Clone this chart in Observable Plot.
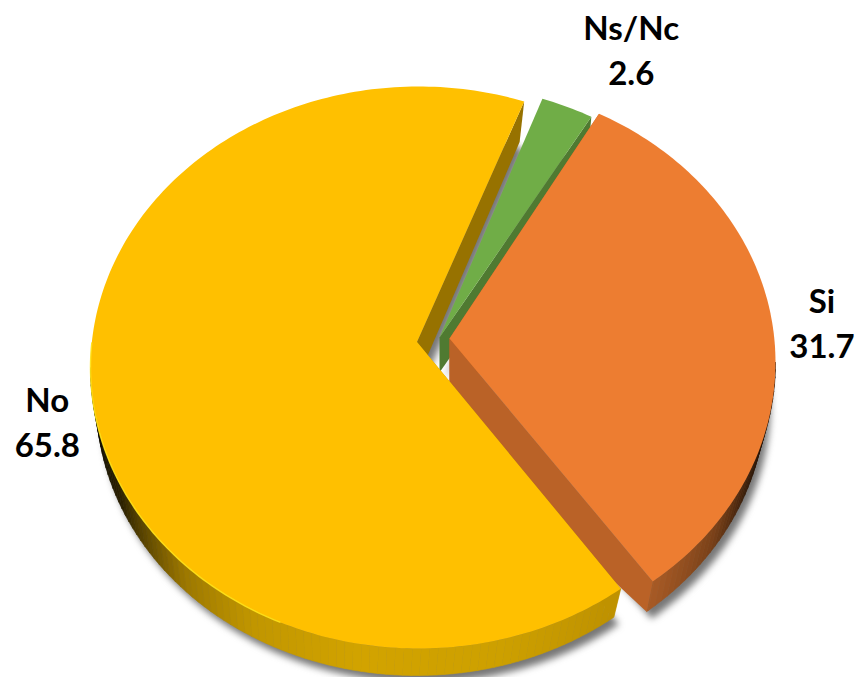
<!DOCTYPE html>
<html>
<head>
<meta charset="utf-8">
<style>
html,body{margin:0;padding:0;background:#fff}
.soft{filter:blur(3.5px)}
</style>
<script src="https://cdn.jsdelivr.net/npm/d3@7"></script>
<script src="https://cdn.jsdelivr.net/npm/@observablehq/plot@0.6"></script>
</head>
<body>
<script>
// Data
const categories = ["Si", "No", "Ns/Nc"];
const values = [31.7, 65.8, 2.6];

// Colours
const topColors = ["#ED7D31", "#FFC000", "#70AD47"];
const wallColors = ["#BA6227", "#977200", "#4F7A31"];

// Perspective layout of each exploded slice
const layout = [
  {turn: 27.3, ax: 449, ay: 338, bax: 449, bay: 428, cx: 449, cy: 362, rx: 326, ry: 280, bcx: 449, bcy: 397, brx: 316, bry: 274,
   rimStops: [[90,"#000000"],[112,"#3a1f0b"],[125,"#7a4119"],[142,"#aa5c26"]], dx: 0, dy: -10},
  {turn: 27.8, ax: 416.5, ay: 341.5, bax: 416, bay: 381, cx: 418, cy: 367, rx: 328, ry: 281, bcx: 416, bcy: 401, brx: 320, bry: 274,
   rimStops: [[142,"#bd9000"],[165,"#cda000"],[190,"#d2a300"],[211,"#c09500"],[226,"#9c7700"],[247,"#2a2000"],[270,"#000000"]], dx: 0, dy: -1},
  {turn: 27.4, ax: 439, ay: 337, bax: 439, bay: 372, cx: 439, cy: 364, rx: 326, ry: 280, bcx: 439, bcy: 395, brx: 318, bry: 266,
   rimStops: [], dx: 45, dy: -21}
];
const labelReach = 1.148;

const rad = d => d * Math.PI / 180;
const onRim = (t, cx, cy, rx, ry) => ({x: cx + rx * Math.sin(rad(t)), y: cy - ry * Math.cos(rad(t))});

let cumulative = 0;
const slices = categories.map((name, i) => {
  const L = layout[i];
  const t0 = cumulative * 3.6 + L.turn;
  const t1 = t0 + values[i] * 3.6;
  cumulative += values[i];
  return {name, value: values[i], t0, t1, mid: (t0 + t1) / 2, top: topColors[i], wall: wallColors[i], L};
});

const arcAngles = (a, b) => {
  const n = Math.max(2, Math.ceil((b - a) / 1));
  return d3.range(n + 1).map(k => a + (b - a) * k / n);
};
const topPoly = s => [{x: s.L.ax, y: s.L.ay},
  ...arcAngles(s.t0, s.t1).map(t => onRim(t, s.L.cx, s.L.cy, s.L.rx, s.L.ry))];
const basePoly = s => [{x: s.L.bax, y: Math.min(s.L.bay, 385)},
  ...arcAngles(s.t0, s.t1).map(t => onRim(t, s.L.bcx, s.L.bcy, s.L.brx, s.L.bry))];

// End wall of a slice, at rim angle t
const endWall = (s, t) => [
  {x: s.L.ax, y: s.L.ay},
  onRim(t, s.L.cx, s.L.cy, s.L.rx, s.L.ry),
  onRim(t, s.L.bcx, s.L.bcy, s.L.brx, s.L.bry),
  {x: s.L.bax, y: s.L.bay}
];

// Curved outer wall in shaded strips
const rimStrips = s => {
  const st = s.L.rimStops;
  if (!st.length) return [];
  const shade = d3.scaleLinear().domain(st.map(d => d[0])).range(st.map(d => d[1])).interpolate(d3.interpolateRgb).clamp(true);
  const a = Math.max(s.t0, st[0][0]);
  const b = Math.min(s.t1, st[st.length - 1][0]);
  const out = [];
  for (let t = a, k = 0; t < b; t += 1.5, k++) {
    const e = Math.min(b, t + 1.5);
    const c = shade((t + e) / 2);
    [onRim(t, s.L.cx, s.L.cy, s.L.rx, s.L.ry), onRim(e, s.L.cx, s.L.cy, s.L.rx, s.L.ry),
     onRim(e, s.L.bcx, s.L.bcy, s.L.brx, s.L.bry), onRim(t, s.L.bcx, s.L.bcy, s.L.brx, s.L.bry)]
      .forEach(p => out.push({...p, k: s.name + k, c}));
  }
  return out;
};

const poly = (pts, fill) => Plot.line(pts, {x: "x", y: "y", fill, stroke: "none", curve: "linear-closed"});
const shadow = s => Plot.line(basePoly(s).map(p => ({x: p.x + 5, y: p.y + 7})),
  {x: "x", y: "y", fill: "#5f5f5f", fillOpacity: 0.85, stroke: "none", curve: "linear-closed", className: "soft"});
const strips = s => Plot.line(rimStrips(s), {x: "x", y: "y", z: "k", fill: "c", stroke: "c", strokeWidth: 0.6, curve: "linear-closed"});

const [si, no, ns] = slices;

const labels = slices.map(s => {
  const p = onRim(s.mid, s.L.cx, s.L.cy, s.L.rx * labelReach, s.L.ry * labelReach);
  return {x: p.x + s.L.dx, y: p.y + s.L.dy, text: `${s.name}\n${s.value.toFixed(1)}`};
});

const chart = Plot.plot({
  width: 861,
  height: 677,
  margin: 0,
  style: {background: "#fff"},
  x: {domain: [0, 861], range: [0, 861], axis: null},
  y: {domain: [0, 677], range: [0, 677], axis: null},
  color: {type: "identity"},
  marks: [
    shadow(si), shadow(no), shadow(ns),
    // Ns/Nc
    poly(endWall(ns, ns.t1), ns.wall),
    poly(topPoly(ns), ns.top),
    // Si
    poly(endWall(si, si.t0), si.wall),
    strips(si),
    poly(endWall(si, si.t1), si.wall),
    poly(topPoly(si), si.top),
    // No
    poly(endWall(no, no.t1), no.wall),
    strips(no),
    poly(endWall(no, no.t0), "#BF9200"),
    poly(topPoly(no), no.top),
    Plot.line(arcAngles(205, 275).map(t => onRim(t, no.L.cx, no.L.cy, no.L.rx, no.L.ry)),
      {x: "x", y: "y", stroke: "#FFE31A", strokeWidth: 1.4, strokeOpacity: 0.9}),
    Plot.text(labels, {x: "x", y: "y", text: "text", fill: "#000", fontFamily: "Lato", fontWeight: 700, fontSize: 33, lineHeight: 1.36, lineAnchor: "middle", textAnchor: "middle"})
  ]
});
document.body.append(chart);
</script>
</body>
</html>
